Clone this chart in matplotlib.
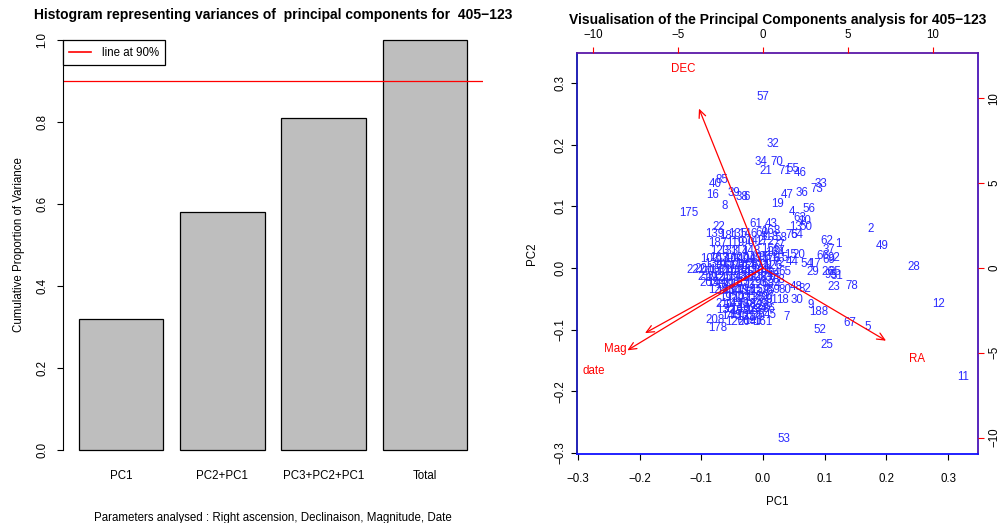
import matplotlib
matplotlib.use("Agg")
import matplotlib.pyplot as plt

plt.rcParams['font.family'] = ['Liberation Sans', 'DejaVu Sans']

# ---- left panel: cumulative proportion of variance
bar_labels = ['PC1', 'PC2+PC1', 'PC3+PC2+PC1', 'Total']
cum_var = [0.320, 0.581, 0.810, 1.0]

# ---- right panel: PCA scores (observation number, PC1, PC2)
obs_id = [57, 32, 34, 70, 21, 71, 55, 46, 33, 73, 36, 47, 19, 56, 4, 63, 10, 13, 50,
          61, 43, 175, 8, 16, 39, 38, 6, 40, 85, 22, 139, 135, 187, 119, 60, 118, 123,
          2, 49, 62, 1, 37, 66, 69, 92, 15, 20, 44, 54, 17, 29, 26, 35, 95, 31, 23, 78,
          48, 82, 80, 18, 30, 91, 9, 188, 7, 45, 161, 52, 67, 5, 25, 12, 28, 11, 53,
          208, 178, 120, 204, 58, 75, 64, 77, 65, 27,
          190, 142, 172, 181, 146, 168,
          133, 156, 164, 114, 148,
          103, 163, 137, 104, 100, 108, 147, 195, 96, 176, 115,
          134, 199, 157, 111, 185, 149, 81, 99, 126, 72,
          222, 201, 209, 170, 141, 106, 154, 183, 116, 101, 41, 94,
          210, 192, 125, 109, 173, 138, 160, 128, 83, 42, 88,
          203, 144, 189, 117, 167, 152, 112, 93, 68, 74,
          124, 180, 130, 145, 198, 113, 159, 76, 59,
          197, 150, 127, 171, 136, 89, 97,
          211, 143, 110, 158, 184, 122, 98,
          132, 174, 193, 102, 166, 84, 86,
          140, 196, 131, 155, 79, 191]
pc1 = [0.000, 0.016, -0.003, 0.023, 0.005, 0.036, 0.049, 0.060, 0.094, 0.088, 0.063, 0.039, 0.023, 0.075, 0.047, 0.060, 0.068, 0.052, 0.070,
       -0.011, 0.013, -0.120, -0.062, -0.081, -0.047, -0.034, -0.026, -0.078, -0.067, -0.071, -0.078, -0.041, -0.073, -0.045, -0.002, 0.010, -0.070,
       0.175, 0.193, 0.104, 0.122, 0.107, 0.097, 0.107, 0.115, 0.045, 0.058, 0.047, 0.071, 0.084, 0.081, 0.105, 0.116, 0.110, 0.120, 0.115, 0.144,
       0.054, 0.068, 0.036, 0.032, 0.055, 0.014, 0.078, 0.091, 0.039, 0.011, 0.000, 0.092, 0.141, 0.170, 0.104, 0.285, 0.245, 0.324, 0.034,
       -0.078, -0.073, -0.045, -0.026, 0.029, 0.047, 0.055, 0.026, 0.035, 0.025,
       -0.030, -0.014, 0.002, -0.056, -0.024, 0.012,
       -0.055, 0.012, 0.020, -0.038, -0.020,
       -0.086, -0.072, -0.060, -0.048, -0.037, -0.027, -0.017, -0.007, 0.003, 0.013, 0.026,
       -0.080, -0.066, -0.053, -0.041, -0.030, -0.018, -0.008, 0.004, 0.016, 0.026,
       -0.108, -0.096, -0.084, -0.072, -0.060, -0.048, -0.036, -0.024, -0.014, -0.004, 0.006, 0.018,
       -0.090, -0.078, -0.066, -0.054, -0.042, -0.030, -0.020, -0.008, 0.004, 0.016, 0.026,
       -0.088, -0.075, -0.062, -0.050, -0.038, -0.026, -0.015, -0.004, 0.008, 0.020,
       -0.073, -0.061, -0.050, -0.040, -0.028, -0.018, -0.006, 0.006, 0.018,
       -0.056, -0.045, -0.035, -0.025, -0.014, -0.002, 0.010,
       -0.062, -0.049, -0.038, -0.027, -0.016, -0.005, 0.006,
       -0.060, -0.048, -0.038, -0.026, -0.014, -0.003, 0.010,
       -0.052, -0.040, -0.028, -0.017, -0.006, -0.016]
pc2 = [0.277, 0.201, 0.172, 0.172, 0.157, 0.157, 0.160, 0.154, 0.136, 0.128, 0.122, 0.118, 0.104, 0.096, 0.091, 0.081, 0.076, 0.066, 0.066,
       0.071, 0.071, 0.089, 0.100, 0.118, 0.122, 0.115, 0.115, 0.136, 0.142, 0.066, 0.055, 0.055, 0.041, 0.041, 0.057, 0.050, 0.028,
       0.063, 0.036, 0.044, 0.039, 0.029, 0.019, 0.013, 0.016, 0.021, 0.021, 0.010, 0.006, 0.006, -0.006, -0.006, -0.006, -0.012, -0.013, -0.031, -0.029,
       -0.030, -0.034, -0.036, -0.052, -0.052, -0.052, -0.060, -0.071, -0.079, -0.076, -0.088, -0.100, -0.089, -0.096, -0.125, -0.058, 0.002, -0.177, -0.277,
       -0.084, -0.097, -0.087, -0.088, 0.049, 0.054, 0.054, 0.037, -0.006, 0.028,
       0.040, 0.043, 0.042, 0.052, 0.055, 0.060,
       0.027, 0.030, 0.024, 0.026, 0.028,
       0.015, 0.016, 0.014, 0.015, 0.016, 0.013, 0.015, 0.016, 0.018, 0.014, 0.017,
       0.006, 0.004, 0.007, 0.004, 0.006, 0.004, 0.007, 0.005, 0.004, 0.008,
       -0.004, -0.002, -0.006, -0.004, -0.006, -0.003, -0.006, -0.004, -0.007, -0.003, -0.005, -0.008,
       -0.015, -0.016, -0.014, -0.017, -0.015, -0.013, -0.016, -0.014, -0.016, -0.013, -0.019,
       -0.025, -0.024, -0.027, -0.024, -0.026, -0.023, -0.027, -0.024, -0.026, -0.028,
       -0.036, -0.037, -0.035, -0.038, -0.036, -0.039, -0.035, -0.037, -0.036,
       -0.048, -0.047, -0.050, -0.046, -0.049, -0.047, -0.046,
       -0.058, -0.060, -0.057, -0.060, -0.058, -0.061, -0.059,
       -0.068, -0.066, -0.069, -0.067, -0.070, -0.067, -0.066,
       -0.078, -0.076, -0.079, -0.077, -0.079, -0.086]

# ---- variable loadings (top/right scale)
var_names = ['RA', 'DEC', 'Mag', 'date']
load_x = [9.07, -4.72, -8.70, -10.00]
load_y = [-5.36, 11.75, -4.80, -6.07]

fig = plt.figure(figsize=(10.02, 5.23), dpi=100)
W, H = 1002.0, 523.0

# ================= left: barplot =================
ax1 = fig.add_axes([63 / W, 1 - 466 / H, 420 / W, 442 / H])
xpos = [0.7 + 1.2 * i for i in range(len(cum_var))]
ax1.bar(xpos, cum_var, width=1.0, color='#bebebe', edgecolor='black', linewidth=0.9)
ax1.set_xlim(0.016, 4.984)
ax1.set_ylim(-0.04, 1.04)
for s in ['top', 'right', 'bottom']:
    ax1.spines[s].set_visible(False)
ax1.spines['left'].set_bounds(0, 1)
ax1.set_yticks([0.0, 0.2, 0.4, 0.6, 0.8, 1.0])
ax1.set_yticklabels(['0.0', '0.2', '0.4', '0.6', '0.8', '1.0'], rotation=90, va='center')
ax1.tick_params(axis='y', length=4.5, pad=6, labelsize=8.3)
ax1.set_xticks(xpos)
ax1.set_xticklabels(bar_labels)
ax1.tick_params(axis='x', length=0, pad=3, labelsize=8.3)
ax1.axhline(0.9, color='red', linewidth=0.9)
ax1.plot([], [], color='red', linewidth=1.2, label='line at 90%')
ax1.legend(loc='upper left', bbox_to_anchor=(0.016, 1.0), bbox_transform=ax1.transData,
           borderaxespad=0, fancybox=False, edgecolor='black', framealpha=1,
           fontsize=8.3, handlelength=1.9, borderpad=0.55, handletextpad=0.9)
ax1.get_legend().get_frame().set_linewidth(0.9)
ax1.set_ylabel('Cumulative Proportion of Variance', fontsize=8.3)
ax1.yaxis.set_label_coords(-0.091, 0.5)
ax1.set_xlabel('Parameters analysed : Right ascension, Declinaison, Magnitude, Date', fontsize=8.3)
ax1.xaxis.set_label_coords(0.5, -0.103)
ax1.set_title('Histogram representing variances of  principal components for  405\u2212123',
              fontsize=10, fontweight='bold', y=0.992)

# ================= right: biplot =================
lim = (-0.3015, 0.3485)
ratio = 0.02749
ax2 = fig.add_axes([577 / W, 1 - 454 / H, 401 / W, 401 / H])
ax2.set_xlim(lim)
ax2.set_ylim(lim)
for i, lab in enumerate(obs_id):
    ax2.text(pc1[i], pc2[i], str(lab), color='#2a2aff', fontsize=8.3,
             ha='center', va='center')
ticks = [-0.3, -0.2, -0.1, 0.0, 0.1, 0.2, 0.3]
ax2.set_xticks(ticks)
ax2.set_xticklabels(['%.1f' % t if t >= 0 else '\u2212%.1f' % -t for t in ticks])
ax2.set_yticks(ticks)
ax2.set_yticklabels(['%.1f' % t if t >= 0 else '\u2212%.1f' % -t for t in ticks],
                    rotation=90, va='center')
ax2.tick_params(axis='x', length=4.5, pad=9, labelsize=8.3)
ax2.tick_params(axis='y', length=4.5, pad=3, labelsize=8.3)
ax2.spines['left'].set_color('#1010b0')
ax2.spines['bottom'].set_color('#1010ff')
ax2.spines['top'].set_color('#5a18a8')
ax2.spines['right'].set_color('#4a14b8')
for s in ax2.spines.values():
    s.set_linewidth(1.3)
ax2.set_xlabel('PC1', fontsize=8.3)
ax2.xaxis.set_label_coords(0.5, -0.105)
ax2.set_ylabel('PC2', fontsize=8.3)
ax2.yaxis.set_label_coords(-0.098, 0.5)

# secondary scale for the loadings
ax3 = fig.add_axes(ax2.get_position(), frameon=False)
ax3.set_xlim(lim[0] / ratio, lim[1] / ratio)
ax3.set_ylim(lim[0] / ratio, lim[1] / ratio)
ax3.xaxis.tick_top()
ax3.yaxis.tick_right()
vt = [-10, -5, 0, 5, 10]
ax3.set_xticks(vt)
ax3.set_xticklabels(['\u221210', '\u22125', '0', '5', '10'])
ax3.set_yticks(vt)
ax3.set_yticklabels(['\u221210', '\u22125', '0', '5', '10'], rotation=90, va='center')
ax3.tick_params(axis='x', length=4.5, pad=4.5, labelsize=8.3, color='red')
ax3.tick_params(axis='y', length=4.5, pad=3, labelsize=8.3, color='red')
for i, name in enumerate(var_names):
    ax3.annotate('', xy=(0.8 * load_x[i], 0.8 * load_y[i]), xytext=(0, 0),
                 arrowprops=dict(arrowstyle='->,head_length=0.55,head_width=0.25',
                                 color='red', lw=0.9, shrinkA=0, shrinkB=0))
    ax3.text(load_x[i], load_y[i], name, color='red', fontsize=8.3,
             ha='center', va='center')
ax3.set_title('Visualisation of the Principal Components analysis for 405\u2212123',
              fontsize=10, fontweight='bold', y=1.052)

fig.savefig('out.png', dpi=100)
